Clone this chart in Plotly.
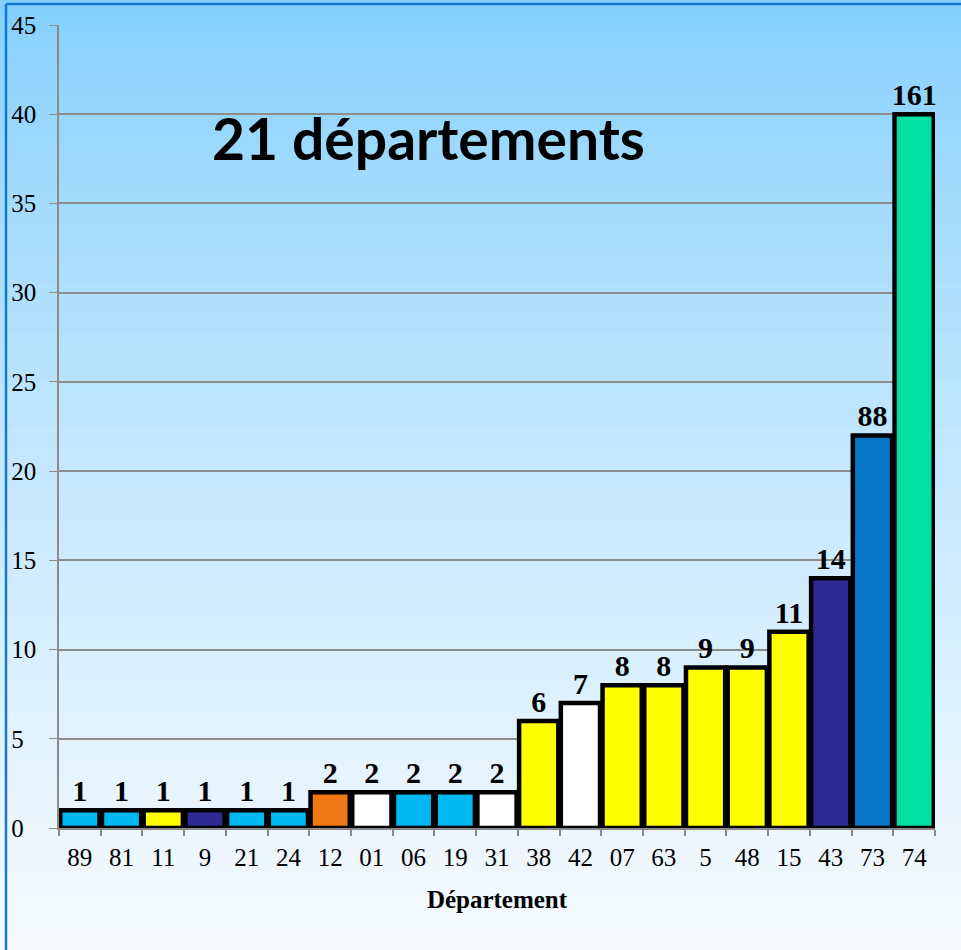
import plotly.graph_objects as go

# ---- data ----
departements = ["89", "81", "11", "9", "21", "24", "12", "01", "06", "19", "31",
                "38", "42", "07", "63", "5", "48", "15", "43", "73", "74"]
counts = [1, 1, 1, 1, 1, 1, 2, 2, 2, 2, 2, 6, 7, 8, 8, 9, 9, 11, 14, 88, 161]
# bar heights as drawn (the two largest bars are capped/truncated in the original)
drawn_heights = [1, 1, 1, 1, 1, 1, 2, 2, 2, 2, 2, 6, 7, 8, 8, 9, 9, 11, 14, 22, 40]
bar_colors = ["#00B8F0", "#00B8F0", "#FFFF00", "#2E2A94", "#00B8F0", "#00B8F0",
              "#F07814", "#FFFFFF", "#00B8F0", "#00B8F0", "#FFFFFF",
              "#FFFF00", "#FFFFFF", "#FFFF00", "#FFFF00", "#FFFF00", "#FFFF00", "#FFFF00",
              "#2E2A94", "#0A76C8", "#00E0A2"]
y_ticks = [0, 5, 10, 15, 20, 25, 30, 35, 40, 45]
title_text = "21 départements"
x_title = "Département"

W, H = 961, 950
ML, MR, MT, MB = 59, 26, 25, 122
PW, PH = W - ML - MR, H - MT - MB


def py(Y):
    return (H - MB - Y) / PH


def px(X):
    return (X - ML) / PW


def lerp(c1, c2, t):
    return tuple(round(a + (b - a) * t) for a, b in zip(c1, c2))


shapes = []
# vertical gradient background
top_c = (0x83, 0xCF, 0xFD)
bot_c = (0xF6, 0xFA, 0xFE)
n = 60
for i in range(n):
    y0 = H * i / n
    y1 = H * (i + 1) / n + 1
    t = min(1.0, (i / (n - 1)) ** 0.8)
    c = lerp(top_c, bot_c, t)
    shapes.append(dict(type="rect", xref="paper", yref="paper",
                       x0=px(0), x1=px(W), y0=py(y1), y1=py(y0),
                       fillcolor="rgb(%d,%d,%d)" % c, line=dict(width=0),
                       layer="below"))
# blue frame (top and left)
shapes.append(dict(type="line", xref="paper", yref="paper",
                   x0=px(6), x1=px(W), y0=py(4), y1=py(4),
                   line=dict(color="#1578D0", width=2.5)))
shapes.append(dict(type="line", xref="paper", yref="paper",
                   x0=px(6), x1=px(6), y0=py(4), y1=py(H),
                   line=dict(color="#1578D0", width=2.5)))

# left-aligned y tick labels (pad single digits with a figure space)
y_ticktext = [str(v).ljust(2, "\u2007") for v in y_ticks]

fig = go.Figure()
fig.add_trace(go.Bar(
    x=departements, y=drawn_heights,
    marker=dict(color=bar_colors, line=dict(color="#000000", width=4.5)),
    text=[str(v) for v in counts], textposition="outside",
    constraintext="none",
    textfont=dict(family="Liberation Serif", size=30, color="#000000"),
    texttemplate="<b>%{text}</b>", cliponaxis=False,
    hoverinfo="skip",
))

fig.update_layout(
    width=W, height=H,
    margin=dict(l=ML, r=MR, t=MT, b=MB, autoexpand=False),
    paper_bgcolor="#F6FAFE", plot_bgcolor="rgba(0,0,0,0)",
    bargap=0.06, showlegend=False,
    shapes=shapes,
    font=dict(family="Liberation Serif", color="#000000"),
    annotations=[dict(text="<b>" + title_text + "</b>", xref="paper", yref="paper",
                      x=px(428), y=py(138), xanchor="center", yanchor="middle",
                      showarrow=False,
                      font=dict(family="Lato", size=57, color="#000000"))],
    xaxis=dict(
        type="category", showgrid=False, showline=True, linecolor="#888888",
        linewidth=2, ticks="outside", tickson="boundaries", ticklen=6,
        tickcolor="#888888", tickwidth=1.5, ticklabelstandoff=6,
        automargin=False,
        tickfont=dict(family="Liberation Serif", size=25, color="#000000"),
        title=dict(text="<b>" + x_title + "</b>", standoff=20,
                   font=dict(family="Liberation Serif", size=25, color="#000000")),
    ),
    yaxis=dict(
        range=[0, 45], tickvals=y_ticks, ticktext=y_ticktext,
        showgrid=True, gridcolor="#8C8C8C",
        gridwidth=1.5, showline=True, linecolor="#8C8C8C", linewidth=1.5,
        ticks="outside", ticklen=8, tickcolor="#8C8C8C", ticklabelstandoff=8,
        automargin=False,
        tickfont=dict(family="Liberation Serif", size=25, color="#000000"),
        zeroline=False,
    ),
)

fig.write_html("out.html", config={"displayModeBar": False},
               post_script="document.body.style.margin='0';")
